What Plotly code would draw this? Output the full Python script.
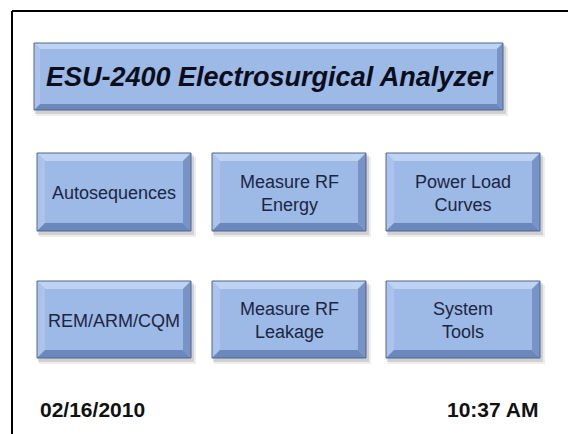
import plotly.graph_objects as go

# ---- content ----
title_text = "ESU-2400 Electrosurgical Analyzer"
button_labels = ["Autosequences", "Measure RF<br>Energy", "Power Load<br>Curves",
                 "REM/ARM/CQM", "Measure RF<br>Leakage", "System<br>Tools"]
date_text = "02/16/2010"
time_text = "10:37 AM"

W, H = 568, 434
FACE = "#9db9e6"
LIGHT = "#bed2f2"
LEFT = "#acc4ed"
DARK = "#6a88bc"
RIGHT = "#7894c6"
EDGE = "#4d6690"

shapes = []
annotations = []


def button(x0, y0, x1, y1, b):
    # soft shadow
    shapes.append(dict(type="rect", x0=x0 + 2, y0=y0 + 4, x1=x1 + 5, y1=y1 + 6,
                       fillcolor="rgba(0,0,0,0.07)", line=dict(width=0), layer="below"))
    shapes.append(dict(type="rect", x0=x0 + 1, y0=y0 + 2, x1=x1 + 3, y1=y1 + 4,
                       fillcolor="rgba(0,0,0,0.12)", line=dict(width=0), layer="below"))
    shapes.append(dict(type="rect", x0=x0, y0=y0, x1=x1, y1=y1, fillcolor=FACE,
                       line=dict(width=0)))
    shapes.append(dict(type="path", path=f"M {x0} {y0} L {x1} {y0} L {x1-b} {y0+b} L {x0+b} {y0+b} Z",
                       fillcolor=LIGHT, line=dict(width=0)))
    shapes.append(dict(type="path", path=f"M {x0} {y0} L {x0+b} {y0+b} L {x0+b} {y1-b} L {x0} {y1} Z",
                       fillcolor=LEFT, line=dict(width=0)))
    shapes.append(dict(type="path", path=f"M {x0} {y1} L {x0+b} {y1-b} L {x1-b} {y1-b} L {x1} {y1} Z",
                       fillcolor=DARK, line=dict(width=0)))
    shapes.append(dict(type="path", path=f"M {x1} {y0} L {x1} {y1} L {x1-b} {y1-b} L {x1-b} {y0+b} Z",
                       fillcolor=RIGHT, line=dict(width=0)))
    shapes.append(dict(type="rect", x0=x0, y0=y0, x1=x1, y1=y1, fillcolor="rgba(0,0,0,0)",
                       line=dict(color=EDGE, width=1)))


# frame lines
shapes.append(dict(type="line", x0=12, y0=11, x1=W, y1=11, line=dict(color="black", width=2)))
shapes.append(dict(type="line", x0=12, y0=11, x1=12, y1=H, line=dict(color="black", width=2)))

# title button
button(34, 43, 503, 110, 6)
annotations.append(dict(x=(34 + 503) / 2 + 1, y=77, xref="x", yref="y", text=f"<b><i>{title_text}</i></b>",
                        showarrow=False, font=dict(family="Liberation Sans, Arial", size=27, color="#0a0e1c")))

cols = [(37, 191), (212, 366), (386, 540)]
rows = [(153, 231), (281, 358)]
for i, lab in enumerate(button_labels):
    r, c = divmod(i, 3)
    x0, x1 = cols[c]
    y0, y1 = rows[r]
    button(x0, y0, x1, y1, 8)
    annotations.append(dict(x=(x0 + x1) / 2, y=(y0 + y1) / 2 + 1, xref="x", yref="y", text=lab,
                            showarrow=False, align="center",
                            font=dict(family="Liberation Sans, Arial", size=18, color="#1b2642")))

annotations.append(dict(x=38, y=409, xref="x", yref="y", text=f"<b>{date_text}</b>", showarrow=False,
                        xanchor="left", font=dict(family="Liberation Sans, Arial", size=21, color="#111111")))
annotations.append(dict(x=540, y=409, xref="x", yref="y", text=f"<b>{time_text}</b>", showarrow=False,
                        xanchor="right", font=dict(family="Liberation Sans, Arial", size=21, color="#111111")))

fig = go.Figure()
fig.update_layout(
    width=W, height=H, margin=dict(l=0, r=0, t=0, b=0),
    paper_bgcolor="white", plot_bgcolor="white",
    xaxis=dict(range=[0, W], visible=False, fixedrange=True),
    yaxis=dict(range=[H, 0], visible=False, fixedrange=True),
    shapes=shapes, annotations=annotations, showlegend=False,
)
fig.write_html("out.html", config={"displayModeBar": False},
               post_script="document.body.style.margin='0';document.body.style.overflow='hidden';")
